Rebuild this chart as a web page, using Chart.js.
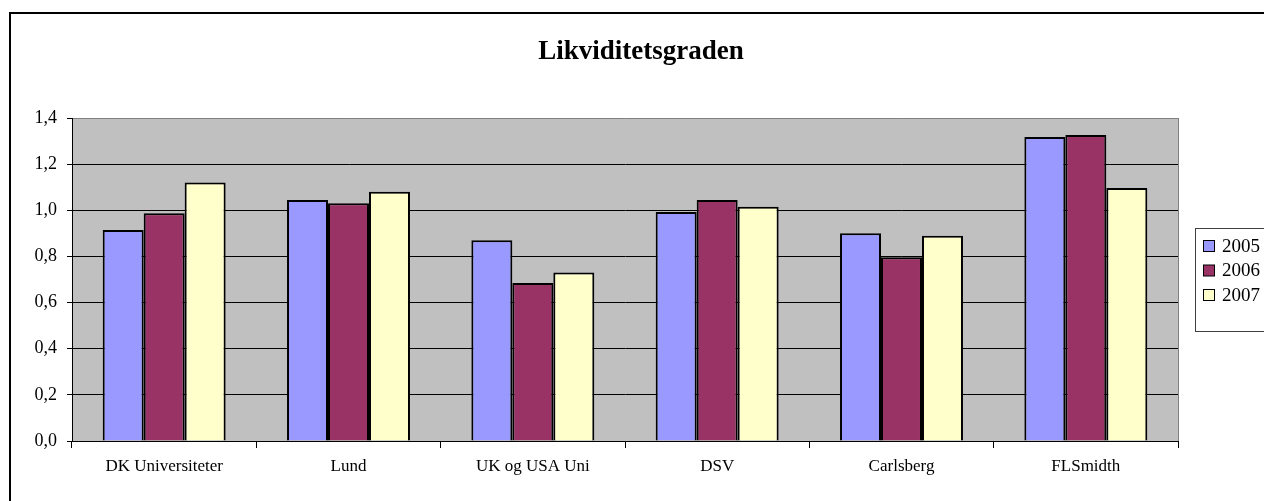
<!DOCTYPE html>
<html lang="da">
<head>
    <meta charset="UTF-8">
    <title>Likviditetsgraden</title>
    <script src="https://cdn.jsdelivr.net/npm/chart.js@4"></script>
    <style>
        html, body { margin: 0; padding: 0; background: #fff; overflow: hidden; }
        #frame {
            position: absolute; left: 9px; top: 12px;
            width: 1300px; height: 520px;
            border: 2px solid #000;
        }
        #wrap { position: absolute; left: 0; top: 0; width: 1300px; height: 501px; }
    </style>
</head>
<body>
    <div id="frame"></div>
    <div id="wrap"><canvas id="chart"></canvas></div>

    <script>
        const categories = ['DK Universiteter', 'Lund', 'UK og USA Uni', 'DSV', 'Carlsberg', 'FLSmidth'];
        const years = ['2005', '2006', '2007'];
        const values2005 = [0.915, 1.045, 0.87, 0.993, 0.90, 1.318];
        const values2006 = [0.987, 1.03, 0.685, 1.045, 0.796, 1.326];
        const values2007 = [1.12, 1.08, 0.73, 1.015, 0.89, 1.097];
        const colors = ['#9999FF', '#993366', '#FFFFCC'];

        const serif = '"Liberation Serif", "Times New Roman", serif';

        // grå plotflade + titel + legende med ramme
        const excelLook = {
            id: 'excelLook',
            beforeDraw(chart) {
                const a = chart.chartArea, ctx = chart.ctx;
                ctx.save();
                ctx.fillStyle = '#C0C0C0';
                ctx.fillRect(a.left, a.top, a.right - a.left, a.bottom - a.top);
                ctx.strokeStyle = '#808080';
                ctx.lineWidth = 1;
                ctx.beginPath();
                ctx.moveTo(a.right + 0.5, a.top);
                ctx.lineTo(a.right + 0.5, a.bottom);
                ctx.stroke();
                ctx.restore();
            },
            afterDraw(chart) {
                const ctx = chart.ctx;
                ctx.save();
                ctx.fillStyle = '#000';
                ctx.font = 'bold 27px ' + serif;
                ctx.textAlign = 'center';
                ctx.textBaseline = 'middle';
                ctx.fillText('Likviditetsgraden', 641, 52);

                // legende
                ctx.strokeStyle = '#404040';
                ctx.lineWidth = 1;
                ctx.strokeRect(1195.5, 228.5, 100, 103);
                ctx.font = '19px ' + serif;
                ctx.textAlign = 'left';
                chart.data.datasets.forEach((ds, i) => {
                    const y = 246 + i * 24.5;
                    ctx.fillStyle = ds.backgroundColor;
                    ctx.fillRect(1203.5, y - 5.5, 11, 11);
                    ctx.strokeStyle = '#000';
                    ctx.strokeRect(1203.5, y - 5.5, 11, 11);
                    ctx.fillStyle = '#000';
                    ctx.fillText(ds.label, 1222, y + 1);
                });
                ctx.restore();
            }
        };

        new Chart(document.getElementById('chart'), {
            type: 'bar',
            data: {
                labels: categories,
                datasets: [
                    { label: years[0], data: values2005, backgroundColor: colors[0] },
                    { label: years[1], data: values2006, backgroundColor: colors[1] },
                    { label: years[2], data: values2007, backgroundColor: colors[2] }
                ].map(d => Object.assign(d, {
                    borderColor: '#000', borderWidth: 2,
                    barPercentage: 1, categoryPercentage: 0.667
                }))
            },
            options: {
                responsive: true,
                maintainAspectRatio: false,
                animation: false,
                layout: { padding: { top: 118, right: 122, left: 0, bottom: 0 } },
                plugins: {
                    legend: { display: false },
                    title: { display: false },
                    tooltip: { enabled: false }
                },
                scales: {
                    x: {
                        grid: { drawOnChartArea: false, drawTicks: true, tickLength: 7, color: '#000' },
                        border: { color: '#000', width: 1 },
                        ticks: { color: '#000', font: { family: serif, size: 17 }, padding: 8, maxRotation: 0 },
                        afterFit(s) { s.height = 60; }
                    },
                    y: {
                        min: 0, max: 1.4,
                        grid: {
                            color: ctx => ctx.tick && ctx.tick.value >= 1.4 ? '#808080' : '#000',
                            tickColor: '#000', tickLength: 5
                        },
                        border: { color: '#000', width: 1 },
                        ticks: {
                            stepSize: 0.2, color: '#000', padding: 10,
                            font: { family: serif, size: 18 },
                            callback: v => v.toFixed(1).replace('.', ',')
                        },
                        afterFit(s) { s.width = 72; }
                    }
                }
            },
            plugins: [excelLook]
        });
    </script>
</body>
</html>
